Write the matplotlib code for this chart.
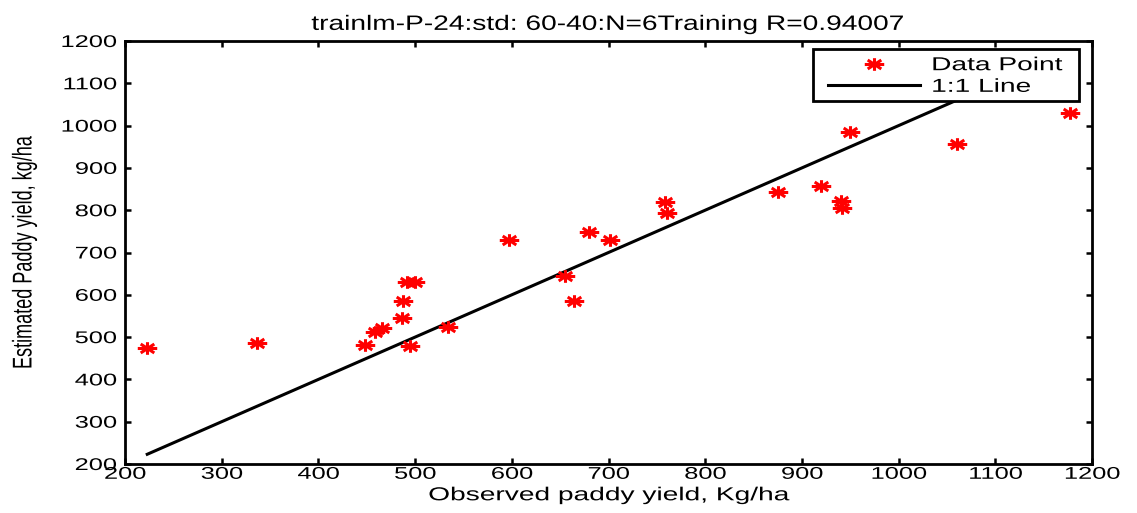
import numpy as np
import matplotlib
matplotlib.use('Agg')
import matplotlib.pyplot as plt
from matplotlib.path import Path
from matplotlib.patches import Rectangle
from matplotlib.patheffects import AbstractPathEffect
from matplotlib.transforms import Affine2D

plt.rcParams['font.family'] = ['Liberation Sans', 'DejaVu Sans']

# observed vs estimated paddy yield (kg/ha)
observed  = [223, 336, 448, 459, 466, 486, 487, 492, 500, 495, 534, 597, 655,
             664, 680, 702, 758, 760, 875, 920, 940, 941, 950, 1060, 1177]
estimated = [474, 486, 481, 512, 522, 545, 585, 630, 630, 479, 524, 730, 644,
             585, 748, 730, 819, 793, 843, 857, 822, 805, 985, 957, 1030]
ticks = [200, 300, 400, 500, 600, 700, 800, 900, 1000, 1100, 1200]
title = 'trainlm-P-24:std: 60-40:N=6Training R=0.94007'


class HStretch(AbstractPathEffect):
    # the original picture is stretched sideways, so stretch the text too
    def __init__(self, sx=1.5, anchor='center'):
        super().__init__()
        self.sx = sx
        self.anchor = anchor

    def draw_path(self, renderer, gc, tpath, affine, rgbFace=None):
        v = affine.transform(tpath.vertices)
        if len(v) == 0:
            return
        if self.anchor == 'left':
            x0 = v[:, 0].min()
        elif self.anchor == 'right':
            x0 = v[:, 0].max()
        else:
            x0 = 0.5*(v[:, 0].min() + v[:, 0].max())
        tr = affine + Affine2D().translate(-x0, 0).scale(self.sx, 1).translate(x0, 0)
        renderer.draw_path(gc, tpath, tr, rgbFace)


# matlab style asterisk, wider than tall
asterisk = Path([(-1, 0), (1, 0), (0, -0.65), (0, 0.65),
                 (-0.7, -0.46), (0.7, 0.46), (-0.7, 0.46), (0.7, -0.46)],
                [Path.MOVETO, Path.LINETO]*4)

fig = plt.figure(figsize=(11.37, 5.13), dpi=100)
ax = fig.add_axes([125/1137, 49/513, 967/1137, 423/513])

ax.plot(observed, estimated, linestyle='none', marker=asterisk, markersize=14,
        markeredgewidth=2.2, color='red', label='Data Point', zorder=3)
x11 = np.array([min(observed), max(observed)])
ax.plot(x11, x11, color='black', linewidth=2.2, label='1:1 Line', zorder=2)

ax.set_xlim(200, 1200)
ax.set_ylim(200, 1200)
ax.set_xticks(ticks)
ax.set_yticks(ticks)
ax.tick_params(direction='in', length=4, width=1.8, top=True, right=True,
               labelsize=12.2)
ax.tick_params(axis='x', pad=2)
ax.tick_params(axis='y', pad=6)
for s in ax.spines.values():
    s.set_linewidth(2)

for lbl in ax.get_xticklabels():
    lbl.set_path_effects([HStretch(1.5, 'center')])
for lbl in ax.get_yticklabels():
    lbl.set_path_effects([HStretch(1.5, 'right')])

t = ax.set_title(title, fontsize=15, pad=8)
t.set_path_effects([HStretch(1.35)])
xl = ax.set_xlabel('Observed paddy yield, Kg/ha', fontsize=13.5)
xl.set_path_effects([HStretch(1.5)])
ax.xaxis.set_label_coords(0.5, -0.055)
yl = ax.set_ylabel('Estimated Paddy yield, kg/ha', fontsize=13)
yl.set_path_effects([HStretch(1.5)])
ax.yaxis.set_label_coords(-0.095, 0.5)

# legend box drawn separately so the handles sit where they do in the original
ax.add_patch(Rectangle((0.7116, 0.858), 0.275, 0.123, transform=ax.transAxes,
                       facecolor='white', edgecolor='black', linewidth=2, zorder=4))
leg = ax.legend(loc='upper left', bbox_to_anchor=(0.727, 0.962), frameon=False,
                fontsize=13.5, numpoints=1, handlelength=4.9, handletextpad=0.6,
                borderpad=0, labelspacing=0.24, borderaxespad=0)
leg.set_zorder(5)
for txt in leg.get_texts():
    txt.set_path_effects([HStretch(1.5, 'left')])

fig.savefig('out.png', dpi=100)
